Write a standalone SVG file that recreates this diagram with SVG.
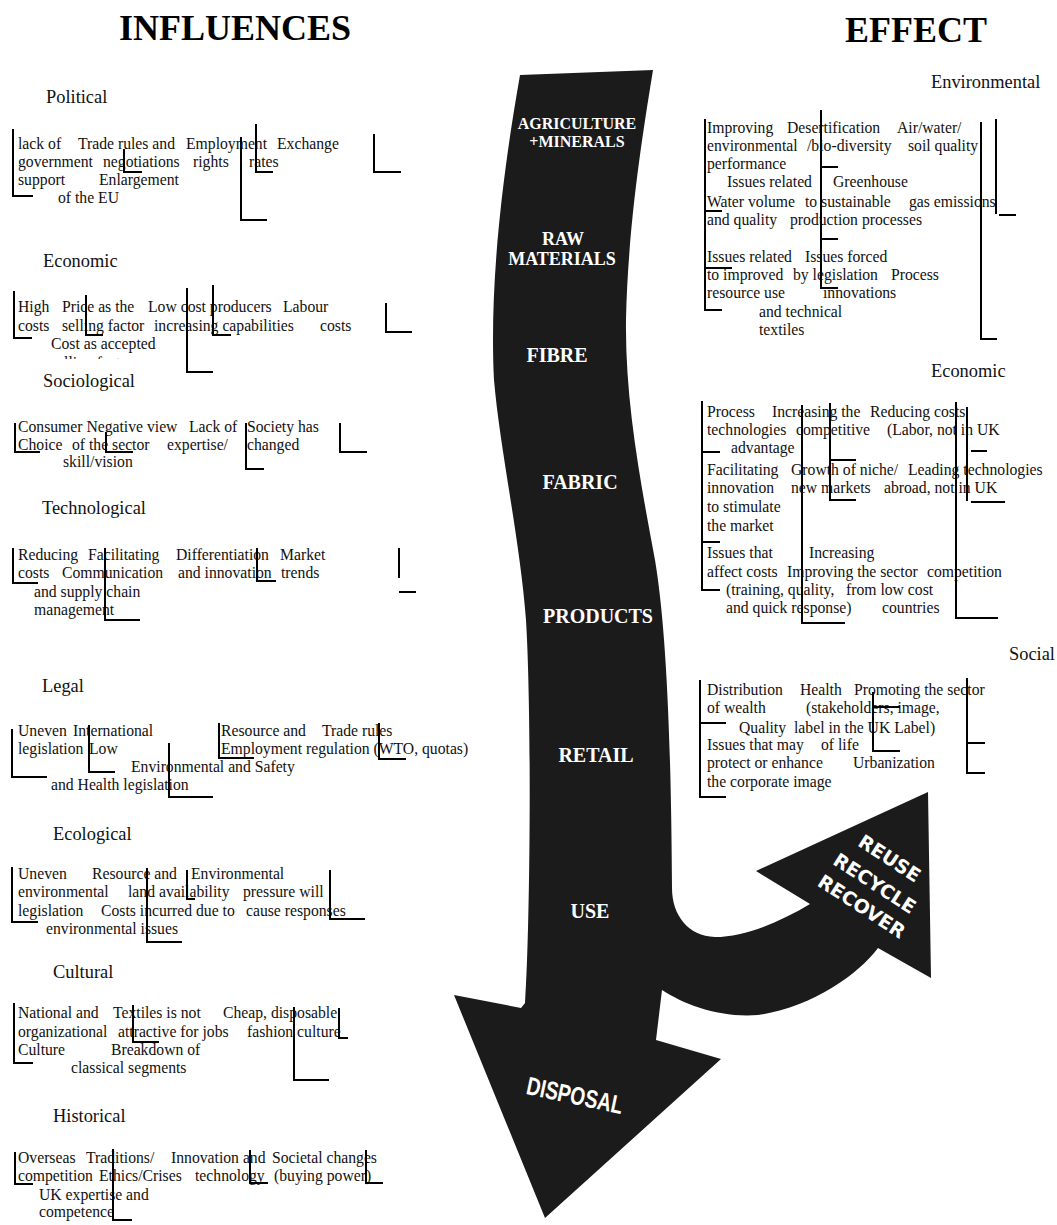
<svg xmlns="http://www.w3.org/2000/svg" width="1057" height="1225" viewBox="0 0 1057 1225">
<style>
.t{font-family:"Liberation Serif","Times New Roman",serif;font-size:15.7px;fill:#111}
.h{font-family:"Liberation Serif","Times New Roman",serif;font-size:18.4px;fill:#111}
.title{font-family:"Liberation Serif","Times New Roman",serif;font-size:36px;font-weight:bold;text-anchor:middle;fill:#000}
.br{fill:none;stroke:#000;stroke-width:2}
.al{font-family:"Liberation Serif","Times New Roman",serif;font-weight:bold;fill:#fff;text-anchor:middle}
.rr{font-family:"DejaVu Sans",sans-serif;font-weight:bold;font-size:19px;fill:#fff;text-anchor:middle}
</style>
<defs>
<clipPath id="clipEco"><rect x="0" y="300" width="420" height="59"/></clipPath>
</defs>
<rect width="1057" height="1225" fill="#fff"/>

<g id="titles">
<text class="title" x="235" y="40">INFLUENCES</text>
<text class="title" x="916" y="42">EFFECT</text>
</g>

<g id="flow-arrow">
<path fill="#1b1b1b" d="M520,75 L653,70 C645,120 628,220 626,320 C625,400 640,480 655,560 C665,620 671,720 672,888 C672,915 688,936 715,937 C745,937 780,922 810,904 L756,871 L928,792 L931,978 L878,948 C858,975 810,1008 758,1015 C720,1018 685,1005 662,990 L656,1040 L721,1059 L545,1218 L454,995 L521,1008 L525,1003 C530,930 532,720 526,620 C520,540 500,450 494,380 C490,300 498,200 520,75 Z"/>
<text class="al" x="577" y="129" font-size="16">AGRICULTURE</text>
<text class="al" x="577" y="147" font-size="16">+MINERALS</text>
<text class="al" x="563" y="245" font-size="18">RAW</text>
<text class="al" x="562" y="265" font-size="18">MATERIALS</text>
<text class="al" x="557" y="362" font-size="20">FIBRE</text>
<text class="al" x="580" y="489" font-size="20">FABRIC</text>
<text class="al" x="598" y="623" font-size="20">PRODUCTS</text>
<text class="al" x="596" y="762" font-size="20">RETAIL</text>
<text class="al" x="590" y="918" font-size="20">USE</text>
<text class="rr" transform="translate(886,864) rotate(33)">REUSE</text>
<text class="rr" transform="translate(871,889) rotate(33)">RECYCLE</text>
<text class="rr" transform="translate(858,912) rotate(33)">RECOVER</text>
<text transform="translate(573,1104) rotate(12) scale(0.87,1.15)" font-family="Liberation Sans, Arial, sans-serif" font-weight="bold" font-size="22" fill="#fff" text-anchor="middle">DISPOSAL</text>
</g>

<g id="influence-political">
<text class="h" x="46" y="103">Political</text>
<text class="t" y="149"><tspan x="18">lack of</tspan><tspan x="78">Trade rules and</tspan><tspan x="186">Employment</tspan><tspan x="277">Exchange</tspan></text>
<text class="t" y="167"><tspan x="18">government</tspan><tspan x="103">negotiations</tspan><tspan x="193">rights</tspan><tspan x="249">rates</tspan></text>
<text class="t" y="185"><tspan x="18">support</tspan><tspan x="99">Enlargement</tspan></text>
<text class="t" y="203"><tspan x="58">of the EU</tspan></text>
</g>

<g id="influence-economic">
<text class="h" x="43" y="267">Economic</text>
<text class="t" y="312"><tspan x="18">High</tspan><tspan x="62">Price as the</tspan><tspan x="148">Low cost producers</tspan><tspan x="283">Labour</tspan></text>
<text class="t" y="331"><tspan x="18">costs</tspan><tspan x="62">selling factor</tspan><tspan x="154">increasing capabilities</tspan><tspan x="320">costs</tspan></text>
<text class="t" y="349"><tspan x="51">Cost as accepted</tspan></text>
<text class="t" y="368" clip-path="url(#clipEco)"><tspan x="51">selling factor</tspan></text>
</g>

<g id="influence-sociological">
<text class="h" x="43" y="387">Sociological</text>
<text class="t" y="432"><tspan x="18">Consumer Negative view</tspan><tspan x="189">Lack of</tspan><tspan x="247">Society has</tspan></text>
<text class="t" y="450"><tspan x="18">Choice</tspan><tspan x="72">of the sector</tspan><tspan x="167">expertise/</tspan><tspan x="247">changed</tspan></text>
<text class="t" y="467"><tspan x="63">skill/vision</tspan></text>
</g>

<g id="influence-technological">
<text class="h" x="42" y="514">Technological</text>
<text class="t" y="560"><tspan x="18">Reducing</tspan><tspan x="88">Facilitating</tspan><tspan x="176">Differentiation</tspan><tspan x="280">Market</tspan></text>
<text class="t" y="578"><tspan x="18">costs</tspan><tspan x="62">Communication</tspan><tspan x="178">and innovation</tspan><tspan x="281">trends</tspan></text>
<text class="t" y="597"><tspan x="34">and supply chain</tspan></text>
<text class="t" y="615"><tspan x="34">management</tspan></text>
</g>

<g id="influence-legal">
<text class="h" x="42" y="692">Legal</text>
<text class="t" y="736"><tspan x="18">Uneven</tspan><tspan x="73">International</tspan><tspan x="221">Resource and</tspan><tspan x="322">Trade rules</tspan></text>
<text class="t" y="754"><tspan x="18">legislation</tspan><tspan x="89">Low</tspan><tspan x="221">Employment regulation (WTO, quotas)</tspan></text>
<text class="t" y="772"><tspan x="131">Environmental and Safety</tspan></text>
<text class="t" y="790"><tspan x="51">and Health legislation</tspan></text>
</g>

<g id="influence-ecological">
<text class="h" x="53" y="840">Ecological</text>
<text class="t" y="879"><tspan x="18">Uneven</tspan><tspan x="92">Resource and</tspan><tspan x="191">Environmental</tspan></text>
<text class="t" y="897"><tspan x="18">environmental</tspan><tspan x="128">land availability</tspan><tspan x="243">pressure will</tspan></text>
<text class="t" y="916"><tspan x="18">legislation</tspan><tspan x="101">Costs incurred due to</tspan><tspan x="246">cause responses</tspan></text>
<text class="t" y="934"><tspan x="46">environmental issues</tspan></text>
</g>

<g id="influence-cultural">
<text class="h" x="53" y="978">Cultural</text>
<text class="t" y="1018"><tspan x="18">National and</tspan><tspan x="113">Textiles is not</tspan><tspan x="223">Cheap, disposable</tspan></text>
<text class="t" y="1037"><tspan x="18">organizational</tspan><tspan x="118">attractive for jobs</tspan><tspan x="247">fashion culture</tspan></text>
<text class="t" y="1055"><tspan x="18">Culture</tspan><tspan x="111">Breakdown of</tspan></text>
<text class="t" y="1073"><tspan x="71">classical segments</tspan></text>
</g>

<g id="influence-historical">
<text class="h" x="53" y="1122">Historical</text>
<text class="t" y="1163"><tspan x="18">Overseas</tspan><tspan x="86">Traditions/</tspan><tspan x="171">Innovation and</tspan><tspan x="272">Societal changes</tspan></text>
<text class="t" y="1181"><tspan x="18">competition</tspan><tspan x="99">Ethics/Crises</tspan><tspan x="195">technology</tspan><tspan x="274">(buying power)</tspan></text>
<text class="t" y="1200"><tspan x="39">UK expertise and</tspan></text>
<text class="t" y="1217"><tspan x="39">competence</tspan></text>
</g>

<g id="effect-environmental">
<text class="h" x="931" y="88">Environmental</text>
<text class="t" y="133"><tspan x="707">Improving</tspan><tspan x="787">Desertification</tspan><tspan x="897">Air/water/</tspan></text>
<text class="t" y="151"><tspan x="707">environmental</tspan><tspan x="807">/bio-diversity</tspan><tspan x="908">soil quality</tspan></text>
<text class="t" y="169"><tspan x="707">performance</tspan></text>
<text class="t" y="187"><tspan x="727">Issues related</tspan><tspan x="833">Greenhouse</tspan></text>
<text class="t" y="207"><tspan x="707">Water volume</tspan><tspan x="805">to sustainable</tspan><tspan x="909">gas emissions</tspan></text>
<text class="t" y="225"><tspan x="707">and quality</tspan><tspan x="790">production processes</tspan></text>
<text class="t" y="262"><tspan x="707">Issues related</tspan><tspan x="805">Issues forced</tspan></text>
<text class="t" y="280"><tspan x="707">to improved</tspan><tspan x="793">by legislation</tspan><tspan x="891">Process</tspan></text>
<text class="t" y="298"><tspan x="707">resource use</tspan><tspan x="823">innovations</tspan></text>
<text class="t" y="317"><tspan x="759">and technical</tspan></text>
<text class="t" y="335"><tspan x="759">textiles</tspan></text>
</g>

<g id="effect-economic">
<text class="h" x="931" y="377">Economic</text>
<text class="t" y="417"><tspan x="707">Process</tspan><tspan x="772">Increasing the</tspan><tspan x="870">Reducing costs</tspan></text>
<text class="t" y="435"><tspan x="707">technologies</tspan><tspan x="796">competitive</tspan><tspan x="887">(Labor, not in UK</tspan></text>
<text class="t" y="453"><tspan x="731">advantage</tspan></text>
<text class="t" y="475"><tspan x="707">Facilitating</tspan><tspan x="791">Growth of niche/</tspan><tspan x="908">Leading technologies</tspan></text>
<text class="t" y="493"><tspan x="707">innovation</tspan><tspan x="791">new markets</tspan><tspan x="884">abroad, not in UK</tspan></text>
<text class="t" y="512"><tspan x="707">to stimulate</tspan></text>
<text class="t" y="531"><tspan x="707">the market</tspan></text>
<text class="t" y="558"><tspan x="707">Issues that</tspan><tspan x="809">Increasing</tspan></text>
<text class="t" y="577"><tspan x="707">affect costs</tspan><tspan x="787">Improving the sector</tspan><tspan x="927">competition</tspan></text>
<text class="t" y="595"><tspan x="726">(training, quality,</tspan><tspan x="846">from low cost</tspan></text>
<text class="t" y="613"><tspan x="726">and quick response)</tspan><tspan x="882">countries</tspan></text>
</g>

<g id="effect-social">
<text class="h" x="1009" y="660">Social</text>
<text class="t" y="695"><tspan x="707">Distribution</tspan><tspan x="800">Health</tspan><tspan x="854">Promoting the sector</tspan></text>
<text class="t" y="713"><tspan x="707">of wealth</tspan><tspan x="806">(stakeholders, image,</tspan></text>
<text class="t" y="733"><tspan x="739">Quality</tspan><tspan x="794">label in the UK Label)</tspan></text>
<text class="t" y="750"><tspan x="707">Issues that may</tspan><tspan x="821">of life</tspan></text>
<text class="t" y="768"><tspan x="707">protect or enhance</tspan><tspan x="853">Urbanization</tspan></text>
<text class="t" y="787"><tspan x="707">the corporate image</tspan></text>
</g>

<g id="connectors" class="br">
<path d="M13 129V196H33M124 149V172H142M241 137V220H267M256 124V172H273M374 134V172H401"/>
<path d="M14 291V338H32M86 295V335H103M187 288V372H213M213 285V335H231M386 303V332H412"/>
<path d="M15 423V452H40M106 432V452H133M246 423V469H264M340 423V452H367"/>
<path d="M13 548V583H38M105 548V620H140M257 548V581H276M399 548V578M399 592H416"/>
<path d="M12 729V777H47M89 725V772H115M169 743V797H213M219 723V758H254M379 723V759H406"/>
<path d="M12 867V922H38M147 868V942H182M187 870V899H195M330 870V919H365"/>
<path d="M14 1003V1063H33M133 1005V1042H159M294 1007V1080H329M339 1008V1038H348"/>
<path d="M15 1152V1184H33M113 1149V1220H132M250 1150V1183H268M366 1150V1183H383"/>
<path d="M705 119V310H722M705 211H722M705 268H732M821 110V288H838M821 167H838M821 239H838M981 122V339H997M996 119V214M999 215H1016"/>
<path d="M702 401V590H720M702 452H720M702 542H720M802 405V623H845M830 403V500H856M830 460H856M956 402V618H998M967 407V501M971 451H987M971 502H1005"/>
<path d="M700 680V797H726M700 723H726M873 692V751H900M873 707H900M967 678V773H985M967 743H985"/>
</g>
</svg>
